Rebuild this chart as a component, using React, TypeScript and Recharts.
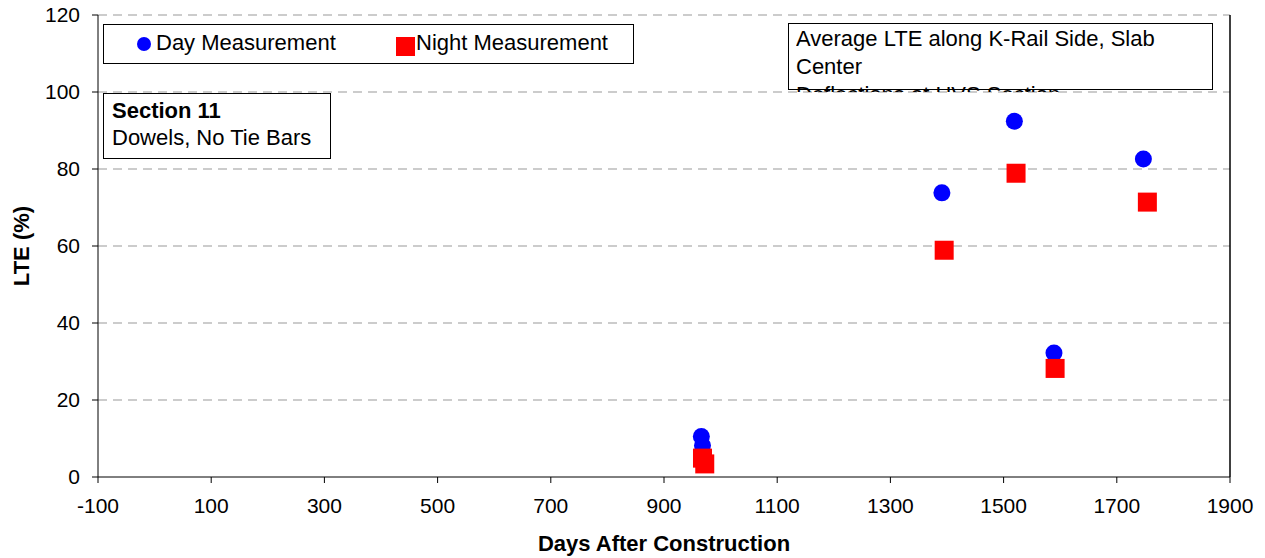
import React from 'react';
import {
  ScatterChart,
  Scatter,
  XAxis,
  YAxis,
  CartesianGrid,
  ReferenceLine,
} from 'recharts';

// values
const dayDays = [966, 968, 1391, 1519, 1589, 1747];
const dayLte = [10.5, 8.2, 73.8, 92.4, 32.2, 82.6];
const nightDays = [968, 972, 1395, 1522, 1591, 1754];
const nightLte = [4.9, 3.4, 58.9, 78.9, 28.2, 71.4];

const xTicks = [-100, 100, 300, 500, 700, 900, 1100, 1300, 1500, 1700, 1900];
const yTicks = [0, 20, 40, 60, 80, 100, 120];

const dayData = dayDays.map((d, i) => ({ days: d, lte: dayLte[i] }));
const nightData = nightDays.map((d, i) => ({ days: d, lte: nightLte[i] }));

const FONT = 'Arial, "Liberation Sans", sans-serif';

const Dot = (props: any) => (
  <circle cx={props.cx} cy={props.cy} r={8.5} fill="#0000ff" />
);
const Square = (props: any) => (
  <rect x={props.cx - 9.5} y={props.cy - 9.5} width={19} height={19} fill="#ff0000" />
);

const box: React.CSSProperties = {
  position: 'absolute',
  border: '1.5px solid #000',
  background: '#fff',
  boxSizing: 'border-box',
  fontFamily: FONT,
  fontSize: 22,
  color: '#000',
};

export default function App() {
  return (
    <div style={{ position: 'absolute', left: 0, top: 0, width: 1265, height: 558, background: '#fff' }}>
      <ScatterChart
        width={1265}
        height={558}
        margin={{ top: 15, right: 35, bottom: 0, left: 0 }}
        style={{ fontFamily: FONT }}
      >
        <CartesianGrid
          vertical={false}
          stroke="#999"
          strokeDasharray="9 6"
          horizontalValues={[20, 40, 60, 80, 100, 120]}
        />
        <XAxis
          type="number"
          dataKey="days"
          domain={[-100, 1900]}
          ticks={xTicks}
          interval={0}
          height={81}
          tickSize={6}
          tickMargin={15}
          stroke="#000"
          tick={{ fill: '#000', fontSize: 21 }}
          label={{
            value: 'Days After Construction',
            position: 'insideBottom',
            offset: 7,
            fill: '#000',
            fontSize: 22,
            fontWeight: 'bold',
          }}
        />
        <YAxis
          type="number"
          dataKey="lte"
          domain={[0, 120]}
          ticks={yTicks}
          interval={0}
          width={98}
          tickSize={6}
          tickMargin={12}
          stroke="#000"
          tick={{ fill: '#000', fontSize: 21 }}
          label={{
            value: 'LTE (%)',
            angle: -90,
            position: 'insideLeft',
            offset: 21,
            fill: '#000',
            fontSize: 22,
            fontWeight: 'bold',
            style: { textAnchor: 'middle' },
          }}
        />
        <ReferenceLine x={1900} stroke="#000" strokeWidth={1.5} />
        <Scatter name="Day Measurement" data={dayData} shape={Dot} isAnimationActive={false} />
        <Scatter name="Night Measurement" data={nightData} shape={Square} isAnimationActive={false} />
      </ScatterChart>

      {/* legend */}
      <div style={{ ...box, left: 103, top: 24, width: 531, height: 40 }}>
        <span style={{ position: 'absolute', left: 33, top: 12, width: 14, height: 14, borderRadius: '50%', background: '#0000ff' }} />
        <span style={{ position: 'absolute', left: 52, top: 5 }}>Day Measurement</span>
        <span style={{ position: 'absolute', left: 292, top: 12, width: 19, height: 19, background: '#ff0000' }} />
        <span style={{ position: 'absolute', left: 312, top: 5 }}>Night Measurement</span>
      </div>

      {/* section note */}
      <div style={{ ...box, left: 103, top: 93, width: 228, height: 66, padding: '3px 0 0 8px', lineHeight: '27px' }}>
        <div style={{ fontWeight: 'bold' }}>Section 11</div>
        <div>Dowels, No Tie Bars</div>
      </div>

      {/* title box, its third line runs past the frame and is cut off */}
      <div style={{ ...box, left: 788, top: 23, width: 425, height: 67 }} />
      <div
        style={{
          position: 'absolute',
          left: 796,
          top: 25,
          width: 415,
          height: 67,
          overflow: 'hidden',
          fontFamily: FONT,
          fontSize: 22,
          lineHeight: '28px',
          color: '#000',
        }}
      >
        <div>Average LTE along K-Rail Side, Slab</div>
        <div>Center</div>
        <div>Deflections at HVS Section</div>
      </div>
    </div>
  );
}
